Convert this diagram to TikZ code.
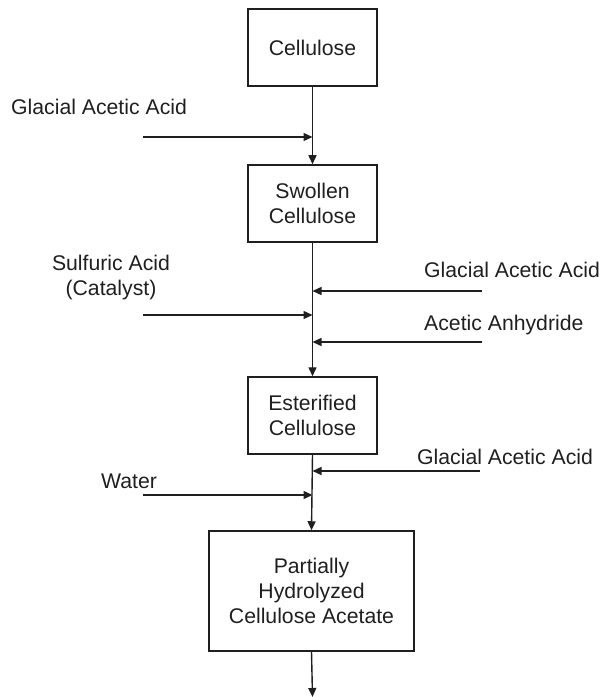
\documentclass[tikz,border=0pt]{standalone}
\usepackage{fontspec}
\setmainfont{Liberation Sans}
\usetikzlibrary{arrows.meta}
\begin{document}
\begin{tikzpicture}[x=1bp,y=-1bp,
  every node/.style={font=\fontsize{21.3}{25.5}\selectfont, text=black!88, inner sep=0pt},
  procbox/.style={draw=black!88, line width=1.5bp, align=center, minimum width=129bp, minimum height=77bp},
  lbl/.style={align=center},
  flow/.style={draw=black!88, line width=1.4bp, -{Triangle[length=9bp,width=8bp]}},
  plain/.style={draw=black!88, line width=1.4bp}]
\useasboundingbox (0,0) rectangle (605,697);
% process boxes
\node[procbox] (cell) at (312.5,47.5) {Cellulose};
\node[procbox] (swol) at (312.5,203.5) {Swollen\\Cellulose};
\node[procbox] (este) at (312.5,415.5) {Esterified\\Cellulose};
\node[procbox, minimum width=205bp, minimum height=120bp] (part) at (311.5,591) {Partially\\Hydrolyzed\\Cellulose Acetate};
% junction points on main line
\coordinate (j1) at (312.5,137);
\coordinate (j2) at (312.5,291);
\coordinate (j3) at (312.5,315);
\coordinate (j4) at (312.5,342);
\coordinate (j5) at (312.5,471);
\coordinate (j6) at (312.5,495);
\coordinate (out) at (312.5,697);
% feed starts
\coordinate (f1) at (143,137);
\coordinate (f2) at (482,291);
\coordinate (f3) at (143,315);
\coordinate (f4) at (482,342);
\coordinate (f5) at (480,471);
\coordinate (f6) at (143,495);
% labels
\node[anchor=west] (t1) at (11,107) {Glacial Acetic Acid};
\node[lbl] (t3) at (111,277.5) {Sulfuric Acid\\(Catalyst)};
\node[anchor=west] (t2) at (424,270) {Glacial Acetic Acid};
\node[anchor=west] (t4) at (424,325) {Acetic Anhydride};
\node[anchor=west] (t5) at (417,457) {Glacial Acetic Acid};
\node[anchor=west] (t6) at (101,481) {Water};
% main flow
\draw[flow] (cell.south) -- (swol.north);
\draw[flow] (swol.south) -- (este.north);
\draw[flow] (este.south) -- (part.north);
\draw[flow] (part.south) -- (out);
% feeds
\draw[flow] (f1) -- (j1);
\draw[flow] (f2) -- (j2);
\draw[flow] (f3) -- (j3);
\draw[flow] (f4) -- (j4);
\draw[flow] (f5) -- (j5);
\draw[flow] (f6) -- (j6);
\end{tikzpicture}
\end{document}
